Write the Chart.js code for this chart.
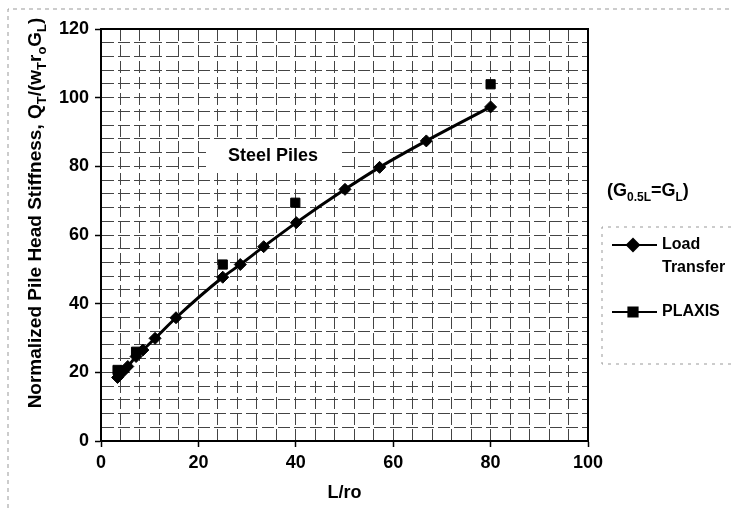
<!DOCTYPE html>
<html>
<head>
<meta charset="utf-8">
<title>Steel Piles - pile head stiffness</title>
<script src="https://cdn.jsdelivr.net/npm/chart.js@4.4.0/dist/chart.umd.min.js"></script>
<style>
  html, body { margin: 0; padding: 0; background: #fff; }
</style>
</head>
<body>
<canvas id="stiff" width="731" height="508"></canvas>
<script>
// values
var lrLoad   = [3.4, 4.5, 5.5, 7.2, 8.6, 11.1, 15.4, 25.0, 28.6, 33.4, 40.1, 50.1, 57.2, 66.8, 80.0];
var kLoad    = [18.5, 20.2, 21.7, 24.6, 26.5, 29.9, 35.9, 47.7, 51.4, 56.6, 63.6, 73.3, 79.7, 87.4, 97.3];
var lrPlaxis = [3.4, 7.2, 25.0, 39.9, 80.0];
var kPlaxis  = [20.7, 26.0, 51.4, 69.4, 103.9];
var xTicks   = [0, 20, 40, 60, 80, 100];
var yTicks   = [0, 20, 40, 60, 80, 100, 120];

var FONT = '"Liberation Sans", Arial, sans-serif';

function toPoints(xs, ys) {
  return xs.map(function (x, i) { return { x: x, y: ys[i] }; });
}

function isMajor(list, v) {
  return list.indexOf(Math.round(v * 1000) / 1000) !== -1;
}

// draw text made of [text, isSub] parts, returns width
function richText(ctx, parts, x, y, size, measureOnly) {
  var cx = x;
  parts.forEach(function (p) {
    var s = p[1] ? Math.round(size * 0.66) : size;
    ctx.font = 'bold ' + s + 'px ' + FONT;
    if (!measureOnly) ctx.fillText(p[0], cx, y + (p[1] ? size * 0.28 : 0));
    cx += ctx.measureText(p[0]).width;
  });
  return cx - x;
}

var decorations = {
  id: 'decorations',
  beforeDatasetsDraw: function (chart) {
    var ctx = chart.ctx;
    ctx.save();
    // white patch behind label
    ctx.fillStyle = '#fff';
    ctx.fillRect(206, 140, 134, 31);
    ctx.fillStyle = '#000';
    ctx.font = 'bold 18px ' + FONT;
    ctx.textAlign = 'center';
    ctx.textBaseline = 'middle';
    ctx.fillText('Steel Piles', 273, 156);
    ctx.restore();
  },
  afterDraw: function (chart) {
    var ctx = chart.ctx, a = chart.chartArea;
    ctx.save();
    // outer frame (scanned page edge)
    ctx.strokeStyle = '#999';
    ctx.lineWidth = 1;
    ctx.setLineDash([4, 4]);
    ctx.beginPath();
    ctx.moveTo(8, 508); ctx.lineTo(8, 9); ctx.lineTo(731, 9);
    ctx.stroke();

    // plot frame top/right
    ctx.setLineDash([]);
    ctx.strokeStyle = '#000';
    ctx.lineWidth = 2;
    ctx.beginPath();
    ctx.moveTo(a.left, a.top); ctx.lineTo(a.right, a.top); ctx.lineTo(a.right, a.bottom);
    ctx.stroke();

    // y axis title with subscripts
    ctx.fillStyle = '#000';
    ctx.textBaseline = 'alphabetic';
    ctx.textAlign = 'left';
    var yParts = [['Normalized Pile Head Stiffness, Q', 0], ['T', 1], ['/(w', 0], ['T', 1],
                  ['r', 0], ['o', 1], ['G', 0], ['L', 1], [')', 0]];
    ctx.save();
    ctx.translate(41, 213);
    ctx.rotate(-Math.PI / 2);
    var w = richText(ctx, yParts, 0, 0, 19, true);
    richText(ctx, yParts, -w / 2, 0, 19);
    ctx.restore();

    // (G0.5L = GL)
    richText(ctx, [['(G', 0], ['0.5L', 1], ['=G', 0], ['L', 1], [')', 0]], 607, 196, 18);

    // legend box
    ctx.strokeStyle = '#999';
    ctx.lineWidth = 1;
    ctx.setLineDash([3, 5]);
    ctx.beginPath();
    ctx.moveTo(731, 227); ctx.lineTo(602, 227); ctx.lineTo(602, 364); ctx.lineTo(731, 364);
    ctx.stroke();
    ctx.setLineDash([]);

    ctx.strokeStyle = '#000';
    ctx.lineWidth = 2;
    [[245, 'rectRot'], [312, 'rect']].forEach(function (it) {
      ctx.beginPath();
      ctx.moveTo(612, it[0]); ctx.lineTo(657, it[0]);
      ctx.stroke();
      Chart.helpers.drawPoint(ctx, { pointStyle: it[1], radius: it[1] === 'rect' ? 6.5 : 6, borderWidth: 1 }, 633, it[0]);
      ctx.fill();
    });
    ctx.font = 'bold 16px ' + FONT;
    ctx.textBaseline = 'middle';
    ctx.fillText('Load', 662, 245);
    ctx.fillText('Transfer', 662, 268);
    ctx.fillText('PLAXIS', 662, 312);
    ctx.restore();
  }
};

var ctx = document.getElementById('stiff').getContext('2d');
new Chart(ctx, {
  type: 'scatter',
  data: {
    datasets: [{
      label: 'Load Transfer',
      data: toPoints(lrLoad, kLoad),
      showLine: true,
      borderColor: '#000',
      backgroundColor: '#000',
      borderWidth: 3,
      cubicInterpolationMode: 'monotone',
      pointStyle: 'rectRot',
      pointRadius: 6,
      pointBorderWidth: 1
    }, {
      label: 'PLAXIS',
      data: toPoints(lrPlaxis, kPlaxis),
      showLine: false,
      borderColor: '#000',
      backgroundColor: '#000',
      pointStyle: 'rect',
      pointRadius: 6.5,
      pointBorderWidth: 1
    }]
  },
  options: {
    responsive: false,
    animation: false,
    layout: { padding: { left: 0, top: 29, right: 143, bottom: 0 } },
    plugins: { legend: { display: false }, tooltip: { enabled: false } },
    scales: {
      x: {
        type: 'linear', min: 0, max: 100,
        afterFit: function (s) { s.height = 67; },
        ticks: {
          stepSize: 4, autoSkip: false, maxRotation: 0, padding: 5, color: '#000',
          font: { family: FONT, size: 18, weight: 'bold' },
          callback: function (v) { return isMajor(xTicks, v) ? String(v) : ''; }
        },
        grid: {
          color: '#444', lineWidth: 1, tickLength: 6, tickWidth: 1.5,
          tickColor: function (c) { return c.tick && isMajor(xTicks, c.tick.value) ? '#000' : 'rgba(0,0,0,0)'; }
        },
        border: { color: '#000', width: 2, dash: [12, 4] },
        title: { display: true, text: 'L/ro', color: '#000', font: { family: FONT, size: 18, weight: 'bold' }, padding: { top: 0 } }
      },
      y: {
        type: 'linear', min: 0, max: 120,
        afterFit: function (s) { s.width = 101; },
        ticks: {
          stepSize: 4, autoSkip: false, padding: 6, color: '#000',
          font: { family: FONT, size: 18, weight: 'bold' },
          callback: function (v) { return isMajor(yTicks, v) ? String(v) : ''; }
        },
        grid: {
          color: '#444', lineWidth: 1, tickLength: 6, tickWidth: 1.5,
          tickColor: function (c) { return c.tick && isMajor(yTicks, c.tick.value) ? '#000' : 'rgba(0,0,0,0)'; }
        },
        border: { color: '#000', width: 2, dash: [12, 4] }
      }
    }
  },
  plugins: [decorations]
});
</script>
</body>
</html>
